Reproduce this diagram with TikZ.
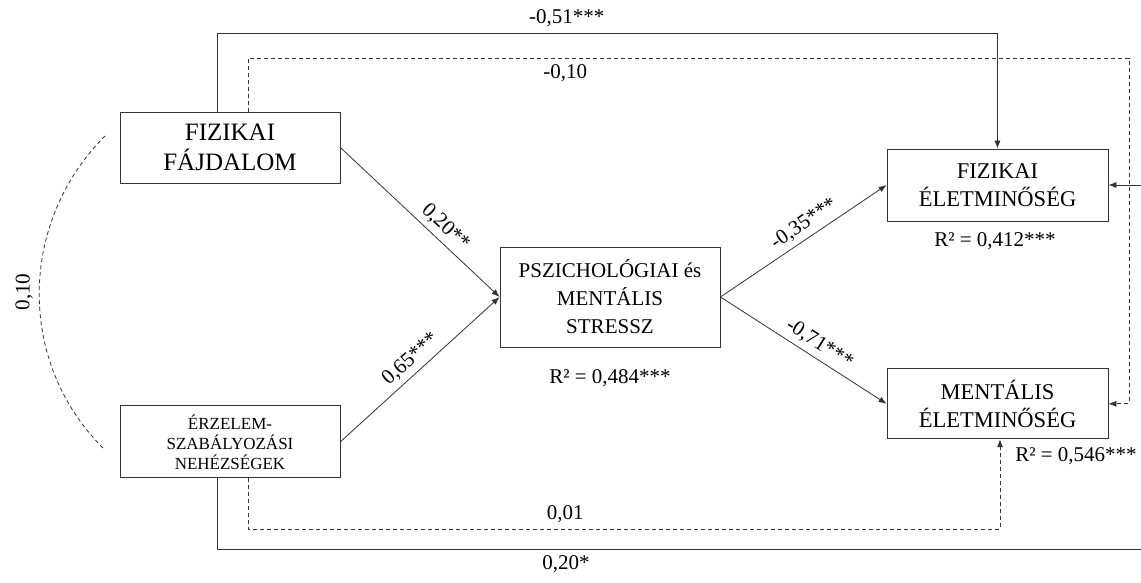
\documentclass[tikz,border=0pt]{standalone}
\usepackage{fontspec}
\setmainfont{Liberation Serif}
\usetikzlibrary{positioning, arrows.meta}

\begin{document}
\begin{tikzpicture}[
  x=1pt, y=1pt,
  box/.style={draw=black!80, line width=0.8pt, align=center, inner sep=0pt, minimum width=220pt},
  lbl/.style={font=\fontsize{21}{25}\selectfont, inner sep=2pt},
  link/.style={draw=black!80, line width=0.8pt, -{Latex[length=8pt, width=6pt]}},
  dlink/.style={link, dash pattern=on 4pt off 3pt},
  corr/.style={draw=black!80, line width=0.8pt, dash pattern=on 4pt off 3pt}
]
\useasboundingbox (0,0) rectangle (1141,-583);

\node[box, minimum height=71pt, font=\fontsize{25}{30}\selectfont] (ff) at (230,-147.5) {FIZIKAI\\FÁJDALOM};
\node[box, minimum height=72pt, font=\fontsize{17}{20}\selectfont, below=222pt of ff] (esz) {ÉRZELEM-\\SZABÁLYOZÁSI\\NEHÉZSÉGEK};
\node[box, minimum height=100pt, font=\fontsize{21}{28}\selectfont] (stress) at (610,-297) {PSZICHOLÓGIAI és\\MENTÁLIS\\STRESSZ};
\node[box, minimum width=221pt, minimum height=72pt, font=\fontsize{22.5}{28}\selectfont] (fe) at (997.5,-185) {FIZIKAI\\ÉLETMINŐSÉG};
\node[box, minimum width=221pt, minimum height=70pt, font=\fontsize{22.5}{28}\selectfont, below=147pt of fe] (me) {MENTÁLIS\\ÉLETMINŐSÉG};

\node[lbl] (r2s) at (610,-378) {R² = 0,484***};
\node[lbl] (r2fe) at (995,-241) {R² = 0,412***};
\node[lbl] (r2me) at (1076,-456) {R² = 0,546***};

\coordinate (dtr) at (1129,-58);
\coordinate (sbr) at (1145,-549);
\coordinate (cortop) at (105,-136);
\coordinate (corbot) at (103,-448);

\draw[link] (ff.east) -- node[lbl, above=3pt, sloped, pos=0.6] {0,20**} (stress.west);
\draw[link] (esz.east) -- node[lbl, above=3pt, sloped, pos=0.5] {0,65***} (stress.west);
\draw[link] (stress.east) -- node[lbl, above=3pt, sloped, pos=0.55] {-0,35***} (fe.west);
\draw[link] (stress.east) -- node[lbl, above=3pt, sloped, pos=0.55] {-0,71***} (me.west);

\draw[link] ([xshift=-13pt]ff.north) -- ++(0,78) -| node[lbl, above=4pt, pos=0.224] {-0,51***} (fe.north);
\draw[dlink] ([xshift=18pt]ff.north) |- node[lbl, below=4pt, pos=0.68] {-0,10} (dtr) |- (me.east);

\draw[link] ([xshift=-13pt]esz.south) |- node[lbl, below=4pt, pos=0.688] {0,20*} (sbr) |- (fe.east);
\draw[dlink] ([xshift=18pt]esz.south) -- ++(0,-51) -| node[lbl, above=4pt, pos=0.211] {0,01} ([xshift=2.5pt]me.south);

\draw[corr] (corbot) to[out=135, in=-135] node[lbl, above=4pt, sloped] {0,10} (cortop);
\end{tikzpicture}
\end{document}
